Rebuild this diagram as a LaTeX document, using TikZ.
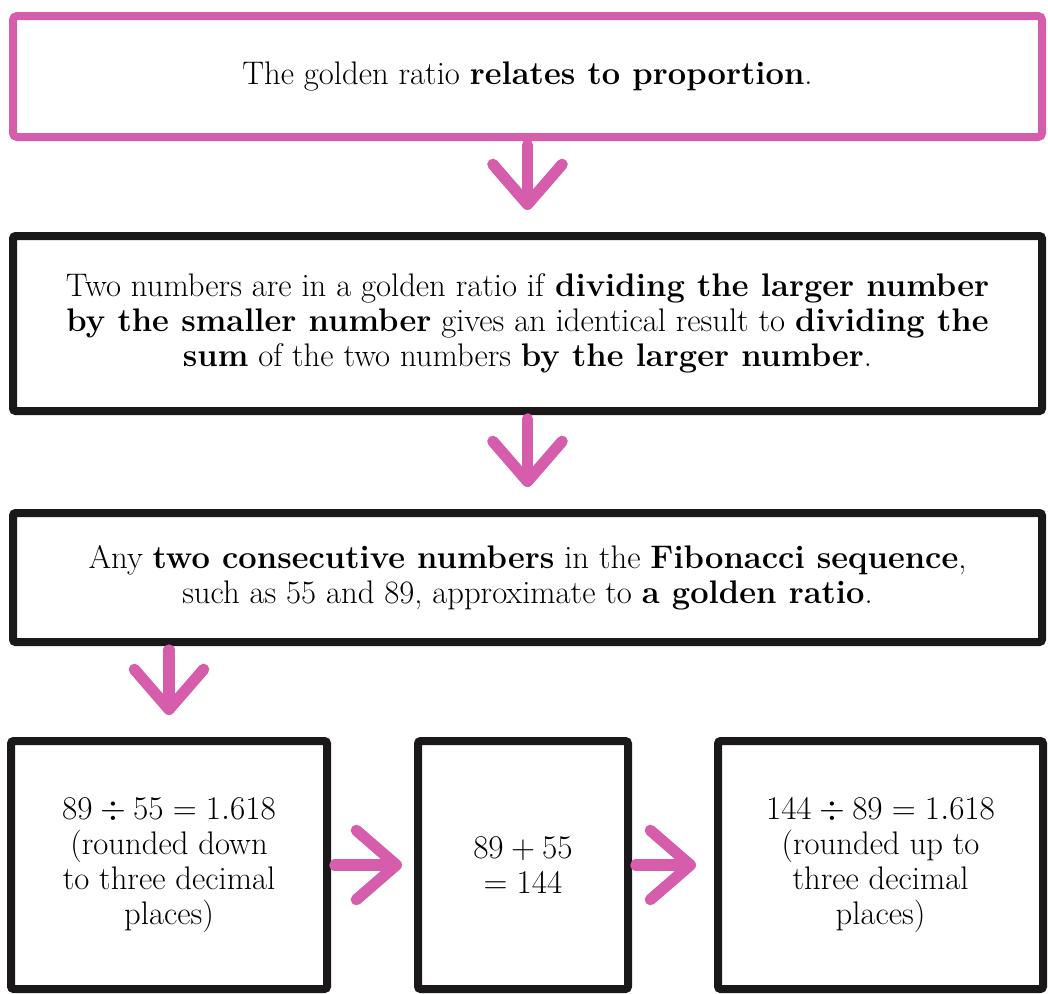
\documentclass[tikz,border=0pt]{standalone}
\usetikzlibrary{arrows.meta}
\definecolor{goldpink}{RGB}{214,92,172}
\definecolor{inkblack}{RGB}{26,24,24}
\tikzset{every picture/.style={line width=0.75pt}}
\tikzset{
  ratiotext/.style={align=center, inner sep=0pt, font=\fontsize{24.5}{26.25}\selectfont},
  pinkbox/.style={ratiotext, draw=goldpink, line width=6pt, rounded corners=3pt},
  inkbox/.style={ratiotext, draw=inkblack, line width=6pt, rounded corners=2pt},
  pinkarrow/.style={draw=goldpink, line width=8.5pt, line cap=round,
    -{Straight Barb[length=30pt, width=52pt, line cap=round, line join=round]}}
}

\begin{document}
\begin{tikzpicture}[x=0.75pt,y=0.75pt,yscale=-1,xscale=1]
\useasboundingbox (0,0) rectangle (1048,993);

% Boxes
\node [pinkbox, minimum width=771.75pt, minimum height=90.75pt] (ratio) at (527.5,76.5)
  {The golden ratio \textbf{relates to proportion}.};
\node [inkbox, minimum width=771.75pt, minimum height=131.25pt] (rule) at (527.5,323.5)
  {Two numbers are in a golden ratio if \textbf{dividing the larger number}\\
   \textbf{by the smaller number} gives an identical result to \textbf{dividing the}\\
   \textbf{sum} of the two numbers \textbf{by the larger number}.};
\node [inkbox, minimum width=771.75pt, minimum height=96.75pt] (fibo) at (527.5,577.5)
  {Any \textbf{two consecutive numbers} in the \textbf{Fibonacci sequence},\\
   such as 55 and 89, approximate to \textbf{a golden ratio}.};
\node [inkbox, minimum width=237pt, minimum height=186pt] (down) at (169,865)
  {$89 \div 55 = 1.618$\\ (rounded down\\ to three decimal\\ places)};
\node [inkbox, minimum width=157.5pt, minimum height=186pt] (sum) at (523,865)
  {$89 + 55$\\ $= 144$};
\node [inkbox, minimum width=243.75pt, minimum height=186pt] (up) at (880.5,865)
  {$144 \div 89 = 1.618$\\ (rounded up to\\ three decimal\\ places)};

% Arrows
\draw [pinkarrow, shorten <=3pt, shorten >=16.5pt] (ratio.south) -- (rule.north);
\draw [pinkarrow, shorten <=3pt, shorten >=16.5pt] (rule.south) -- (fibo.north);
\draw [pinkarrow, shorten <=3pt, shorten >=16.5pt] (fibo.south -| down.north) -- (down.north);
\draw [pinkarrow, shorten <=3pt, shorten >=9pt] (down.east) -- (sum.west);
\draw [pinkarrow, shorten <=3pt, shorten >=13.5pt] (sum.east) -- (up.west);

\end{tikzpicture}
\end{document}
